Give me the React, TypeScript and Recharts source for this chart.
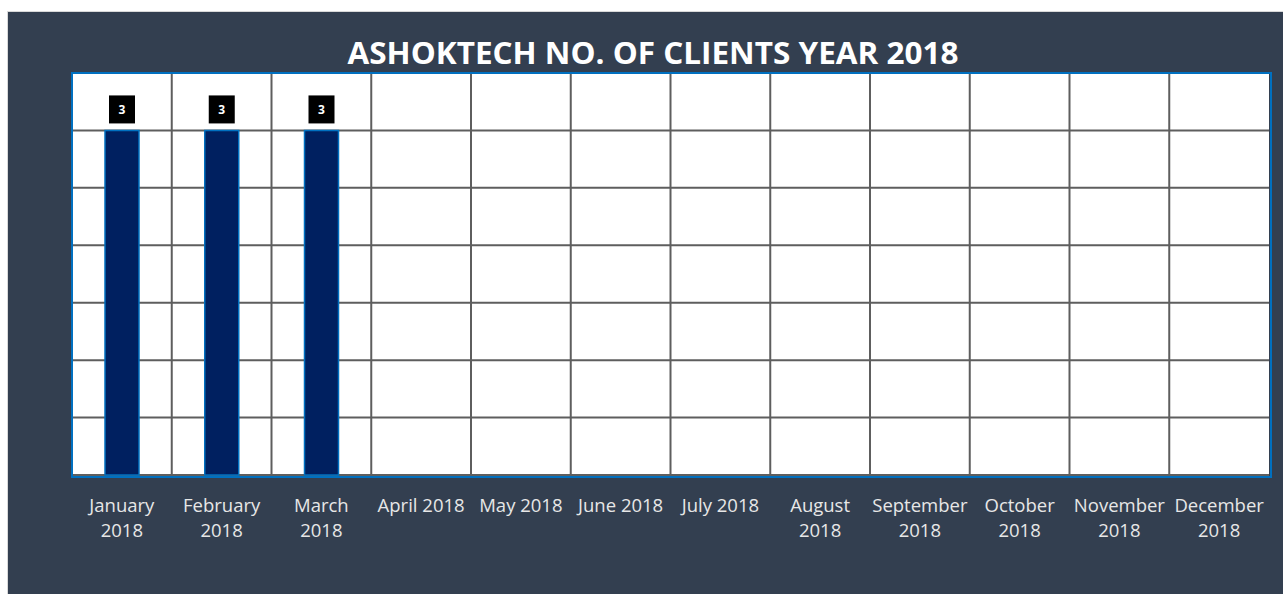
import { BarChart, Bar, XAxis, YAxis, CartesianGrid, LabelList } from "recharts";

const months = [
  "January 2018",
  "February 2018",
  "March 2018",
  "April 2018",
  "May 2018",
  "June 2018",
  "July 2018",
  "August 2018",
  "September 2018",
  "October 2018",
  "November 2018",
  "December 2018",
];
const clients = [3, 3, 3, null, null, null, null, null, null, null, null, null];
const tickLines = [
  ["January", "2018"],
  ["February", "2018"],
  ["March", "2018"],
  ["April 2018"],
  ["May 2018"],
  ["June 2018"],
  ["July 2018"],
  ["August", "2018"],
  ["September", "2018"],
  ["October", "2018"],
  ["November", "2018"],
  ["December", "2018"],
];
const yTicks = [0, 0.5, 1, 1.5, 2, 2.5, 3, 3.5];

const data = months.map((m, i) => ({ month: m, clients: clients[i] }));

const W = 1275;
const H = 582;
const margin = { top: 61, right: 14, left: 64, bottom: 59 };

function MonthTick(props: any) {
  const { x, y, index } = props;
  const lines = tickLines[index] || [];
  return (
    <text
      x={x}
      y={y}
      textAnchor="middle"
      fill="#e7e7e7"
      fontFamily="'Open Sans', sans-serif"
      fontSize={18.5}
    >
      {lines.map((l, i) => (
        <tspan key={i} x={x} dy={i === 0 ? 29 : 25}>
          {l}
        </tspan>
      ))}
    </text>
  );
}

function BoxLabel(props: any) {
  const { x, y, width, value } = props;
  if (value == null) return null;
  const cx = x + width / 2;
  return (
    <g>
      <rect x={cx - 13} y={y - 35} width={26} height={28} fill="#000" />
      <text
        x={cx}
        y={y - 21}
        textAnchor="middle"
        dominantBaseline="central"
        fill="#fff"
        fontFamily="'Open Sans', sans-serif"
        fontWeight={700}
        fontSize={12}
      >
        {value}
      </text>
    </g>
  );
}

export default function App() {
  const plotW = W - margin.left - margin.right;
  const plotH = H - margin.top - margin.bottom - 60;
  return (
    <div
      style={{
        position: "absolute",
        left: 7,
        top: 11,
        width: W,
        height: H,
        background: "#333f50",
        borderTop: "1px solid #d9d9d9",
        borderLeft: "1px solid #d9d9d9",
      }}
    >
      <svg
        width={W}
        height={60}
        style={{ position: "absolute", left: 0, top: 0 }}
      >
        <text
          x={645}
          y={52}
          textAnchor="middle"
          fill="#ffffff"
          fontFamily="'Open Sans', sans-serif"
          fontWeight={700}
          fontSize={31}
          textLength={611}
          lengthAdjust="spacingAndGlyphs"
        >
          ASHOKTECH NO. OF CLIENTS YEAR 2018
        </text>
      </svg>
      <BarChart width={W} height={H} data={data} margin={margin}>
        <CartesianGrid
          fill="#ffffff"
          stroke="#5e5e5e"
          strokeWidth={2}
          verticalCoordinatesGenerator={({ offset }: any) =>
            months.map((_, i) => offset.left + (i * offset.width) / months.length)
          }
        />
        <XAxis
          dataKey="month"
          axisLine={false}
          tickLine={false}
          interval={0}
          height={60}
          tick={<MonthTick />}
        />
        <YAxis hide domain={[0, 3.5]} ticks={yTicks} />
        <Bar
          dataKey="clients"
          fill="#002060"
          stroke="#0070c0"
          strokeWidth={1.5}
          barSize={34}
          isAnimationActive={false}
        >
          <LabelList dataKey="clients" content={<BoxLabel />} />
        </Bar>
      </BarChart>
      <div
        style={{
          position: "absolute",
          left: margin.left - 1,
          top: margin.top - 1,
          width: plotW,
          height: plotH,
          border: "2px solid #0070c0",
          boxSizing: "content-box",
          pointerEvents: "none",
        }}
      />
    </div>
  );
}
